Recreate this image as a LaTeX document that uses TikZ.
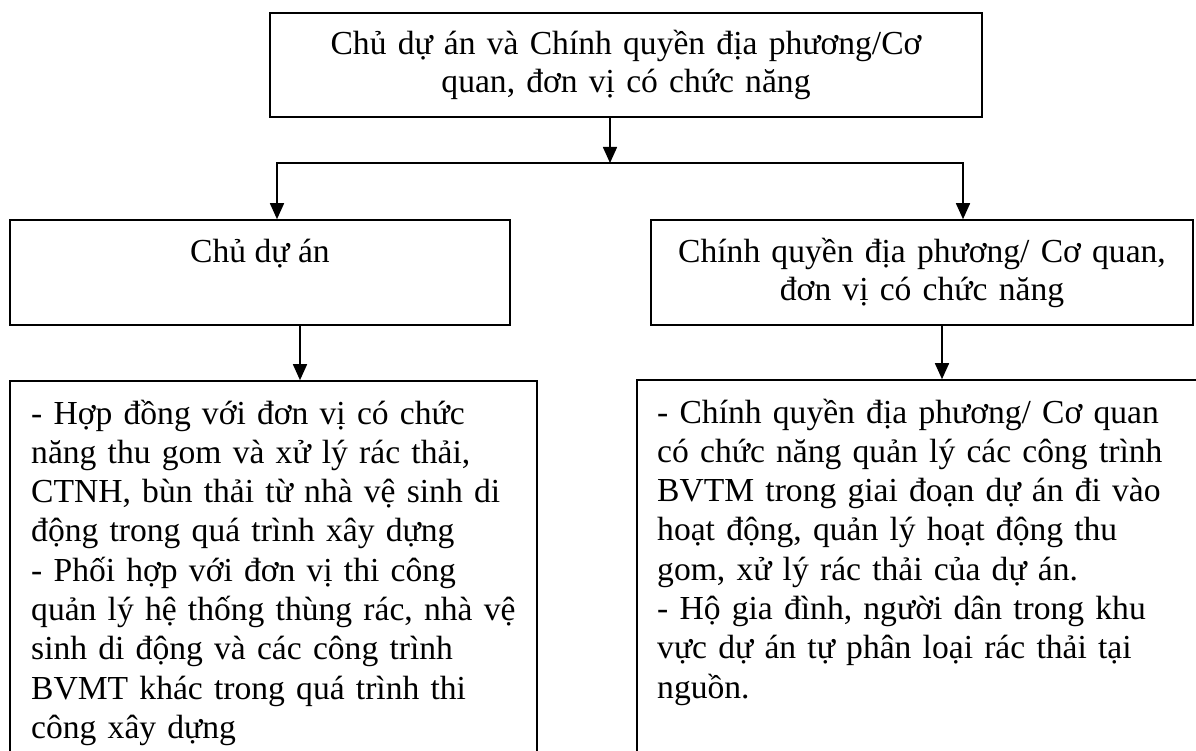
\documentclass[tikz,border=0pt]{standalone}
\usepackage{fontspec}
\setmainfont{Liberation Serif}
\usetikzlibrary{arrows.meta}
\begin{document}
\begin{tikzpicture}[x=1pt,y=-1pt]
	\tikzset{flow box/.style={draw,rectangle,line width=1.6pt,inner sep=0pt}}
	\tikzset{flow text/.style={inner sep=0pt,font=\fontsize{33.6}{37.5}\selectfont}}
	\tikzset{flow arrow/.style={line width=1.6pt,-{Triangle[length=16pt,width=14pt]}}}
	\clip (0,0) rectangle (1196,751);
	\node [flow box,minimum width=712,minimum height=104]	(top)				at (626,65)			{};
	\node [flow box,minimum width=500,minimum height=105]	(owner)				at (260,272.5)		{};
	\node [flow box,minimum width=542,minimum height=105]	(authority)			at (922,272.5)		{};
	\node [flow box,minimum width=527,minimum height=420]	(owner duties)		at (273.5,591)		{};
	\node [flow box,minimum width=583,minimum height=420]	(authority duties)	at (928.5,590)		{};
		\node [flow text,anchor=base,text width=700,align=center]	(top text)		at (top.north |- 0,55)		{Chủ dự án và Chính quyền địa phương/Cơ\\quan, đơn vị có chức năng};
		\node [flow text,anchor=base]								(owner text)		at (owner.north |- 0,262)	{Chủ dự án};
		\node [flow text,anchor=base,text width=540,align=center]	(authority text)	at (authority.north |- 0,263)	{Chính quyền địa phương/ Cơ quan,\\đơn vị có chức năng};
		\node [flow text,anchor=base west,text width=500,align=left,font=\fontsize{33.6}{39.3}\selectfont]	(owner duties text)		at (31,424)		{- Hợp đồng với đơn vị có chức\\năng thu gom và xử lý rác thải,\\CTNH, bùn thải từ nhà vệ sinh di\\động trong quá trình xây dựng\\- Phối hợp với đơn vị thi công\\quản lý hệ thống thùng rác, nhà vệ\\sinh di động và các công trình\\BVMT khác trong quá trình thi\\công xây dựng};
		\node [flow text,anchor=base west,text width=530,align=left,font=\fontsize{33.6}{39.3}\selectfont]	(authority duties text)	at (657,423)	{- Chính quyền địa phương/ Cơ quan\\có chức năng quản lý các công trình\\BVTM trong giai đoạn dự án đi vào\\hoạt động, quản lý hoạt động thu\\gom, xử lý rác thải của dự án.\\- Hộ gia đình, người dân trong khu\\vực dự án tự phân loại rác thải tại\\nguồn.};
	\coordinate (split)			at (610,163);
	\coordinate (branch left)	at (277,163);
	\coordinate (branch right)	at (963,163);
	\coordinate (owner out)		at (300,0);
	\coordinate (authority out)	at (942,0);
	\draw [flow arrow] (top.south -| split) -- (split);
	\draw [flow arrow] (branch right) -- (branch left) -- (branch left |- owner.north);
	\draw [flow arrow] (branch left) -- (branch right) -- (branch right |- authority.north);
	\draw [flow arrow] (owner.south -| owner out) -- (owner duties.north -| owner out);
	\draw [flow arrow] (authority.south -| authority out) -- (authority duties.north -| authority out);
\end{tikzpicture}
\end{document}
